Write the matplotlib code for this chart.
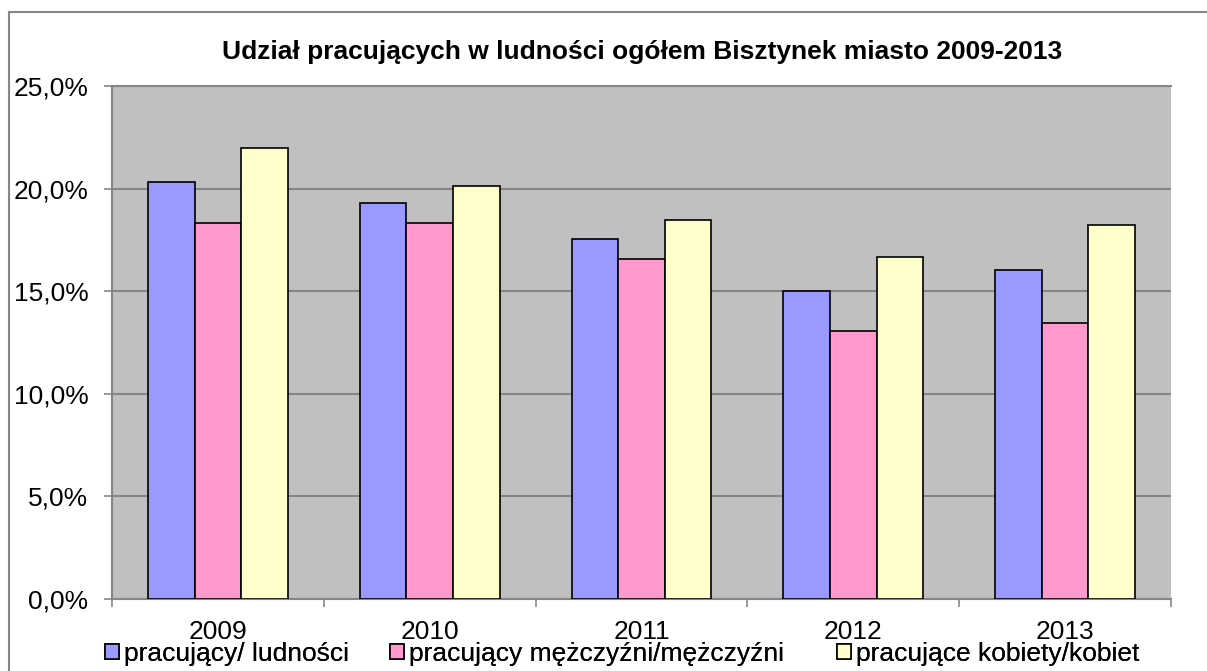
import numpy as np
import matplotlib
matplotlib.use("Agg")
import matplotlib.pyplot as plt
from matplotlib.lines import Line2D
from matplotlib.ticker import FixedLocator

plt.rcParams['font.family'] = ['Liberation Sans', 'DejaVu Sans']

# data
years = ['2009', '2010', '2011', '2012', '2013']
labels = ['pracujący/ ludności', 'pracujący mężczyźni/mężczyźni', 'pracujące kobiety/kobiet']
pracujacy = [20.3, 19.3, 17.55, 15.0, 16.05]
mezczyzni = [18.3, 18.3, 16.55, 13.05, 13.45]
kobiety = [22.0, 20.15, 18.45, 16.65, 18.25]
yticks = [0, 5, 10, 15, 20, 25]

colors = ['#9999FF', '#FF99CC', '#FFFFCC']
GRAY = '#868686'

W, H = 1207, 671
fig = plt.figure(figsize=(W / 100, H / 100), dpi=100)
ax = fig.add_axes([112 / W, 1 - 599 / H, (1171 - 112) / W, (599 - 86) / H])
ax.set_facecolor('#C0C0C0')

x = np.arange(len(years))
bw = 0.22
series = [pracujacy, mezczyzni, kobiety]
bars = []
for i, (vals, col, lab) in enumerate(zip(series, colors, labels)):
    b = ax.bar(x + (i - 1) * bw, vals, bw, color=col, edgecolor='black', linewidth=1.2,
               label=lab, zorder=3)
    bars.append(b)

ax.set_xlim(-0.5, len(years) - 0.5)
ax.set_ylim(0, 25)

# y axis
ax.set_yticks(yticks)
ax.set_yticklabels([f'{v:.1f}%'.replace('.', ',') for v in yticks])
ax.yaxis.grid(True, color=GRAY, linewidth=1.5, zorder=1)
ax.tick_params(axis='y', direction='out', length=6, width=1.2, color=GRAY,
               labelsize=19, pad=11)

# x axis: ticks on boundaries, labels at centres
ax.xaxis.set_major_locator(FixedLocator(np.arange(-0.5, len(years), 1.0)))
ax.xaxis.set_major_formatter(plt.NullFormatter())
ax.xaxis.set_minor_locator(FixedLocator(x))
ax.set_xticklabels(years, minor=True)
ax.tick_params(axis='x', which='major', direction='out', length=6, width=1.2, color=GRAY)
ax.tick_params(axis='x', which='minor', length=0, labelsize=19, pad=15)

for side in ['left', 'bottom', 'top']:
    ax.spines[side].set_color(GRAY)
    ax.spines[side].set_linewidth(1.5)
ax.spines['right'].set_visible(False)

fig.text(0.532, 1 - 52 / H, 'Udział pracujących w ludności ogółem Bisztynek miasto 2009-2013',
         ha='center', va='center', fontsize=19, fontweight='bold')

# legend entries placed one by one (Excel spaces them unevenly)
legend_x = [105, 390, 837]
for b, lab, lx in zip(bars, labels, legend_x):
    leg = fig.legend([b], [lab], loc='center left', bbox_to_anchor=(lx / W, 1 - 654 / H),
                     frameon=False, fontsize=19, handlelength=0.53, handleheight=0.53,
                     handletextpad=0.2, borderpad=0, borderaxespad=0)
    fig.add_artist(leg)

# outer chart border (left and top visible)
fig.add_artist(Line2D([9 / W, 9 / W], [0, 1 - 12 / H], color=GRAY, linewidth=1.5))
fig.add_artist(Line2D([9 / W, 1], [1 - 12 / H, 1 - 12 / H], color=GRAY, linewidth=1.5))

fig.savefig('out.png', dpi=100)
